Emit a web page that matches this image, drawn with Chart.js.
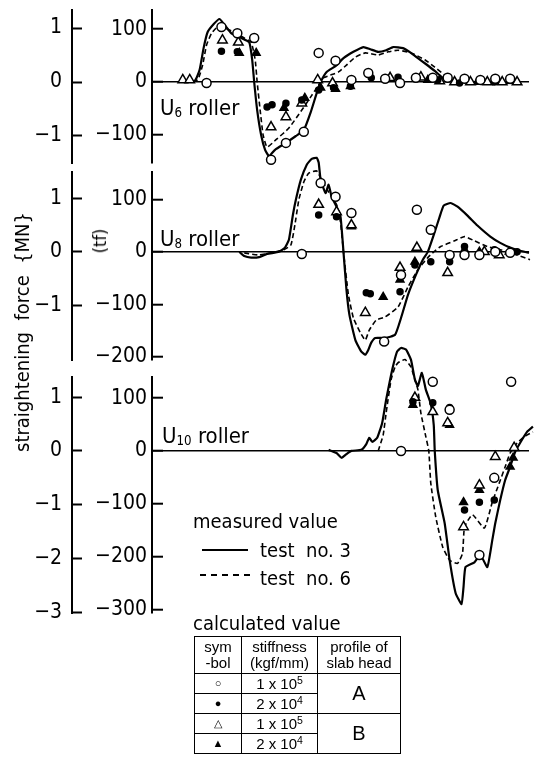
<!DOCTYPE html>
<html>
<head>
<meta charset="utf-8">
<script src="https://cdn.jsdelivr.net/npm/chart.js@4.4.1/dist/chart.umd.min.js"></script>
<style>
body { margin: 0; background: #fff; }
#wrap { position: relative; width: 536px; height: 784px; overflow: hidden; color: #000;
  font-family: "Liberation Sans Narrow", "DejaVu Sans Condensed", "Liberation Sans", sans-serif; }
canvas { position: absolute; left: 0; top: 0; }
.t { position: absolute; white-space: nowrap; line-height: 1; }
.t sub { font-size: 60%; vertical-align: -0.15em; }
table { position: absolute; left: 194px; top: 636px; border-collapse: collapse; font-size: 15px; line-height: 1.05;
  font-family: "Liberation Sans", sans-serif; }
td { border: 1.5px solid #000; text-align: center; padding: 0; height: 19px; }
td sup { font-size: 70%; vertical-align: 0.45em; }
td.s { font-size: 11px; }
</style>
</head>
<body>
<div id="wrap">
  <canvas id="c6" width="536" height="784"></canvas>
  <canvas id="c8" width="536" height="784"></canvas>
  <canvas id="c10" width="536" height="784"></canvas>

  <div class="t" style="left:22px;top:332px;font-size:20px;transform:translate(-50%,-50%) rotate(-90deg);">straightening&nbsp; force&nbsp; {MN}</div>
  <div class="t" style="left:100px;top:241px;font-size:18px;transform:translate(-50%,-50%) rotate(-90deg);">(tf)</div>

  <div class="t" style="left:160px;top:97px;font-size:22px;">U<sub>6</sub> roller</div>
  <div class="t" style="left:160px;top:228px;font-size:22px;">U<sub>8</sub> roller</div>
  <div class="t" style="left:162px;top:425px;font-size:22px;">U<sub>10</sub> roller</div>

  <div class="t" style="left:193px;top:511px;font-size:20px;">measured value</div>
  <div style="position:absolute;left:202px;top:549px;width:46px;border-top:2px solid #000;"></div>
  <div class="t" style="left:260px;top:540px;font-size:20px;">test&nbsp; no. 3</div>
  <div style="position:absolute;left:200px;top:574px;width:50px;border-top:2px dashed #000;"></div>
  <div class="t" style="left:260px;top:568px;font-size:20px;">test&nbsp; no. 6</div>
  <div class="t" style="left:193px;top:613px;font-size:20px;">calculated value</div>

  <table>
    <tr><td style="width:46px;height:36px;">sym<br>-bol</td><td style="width:75px;">stiffness<br>(kgf/mm)</td><td style="width:82px;">profile of<br>slab head</td></tr>
    <tr><td class="s">&#9675;</td><td>1 x 10<sup>5</sup></td><td rowspan="2" style="font-size:20px;">A</td></tr>
    <tr><td class="s">&#9679;</td><td>2 x 10<sup>4</sup></td></tr>
    <tr><td class="s">&#9651;</td><td>1 x 10<sup>5</sup></td><td rowspan="2" style="font-size:20px;">B</td></tr>
    <tr><td class="s">&#9650;</td><td>2 x 10<sup>4</sup></td></tr>
  </table>
</div>

<script>
// x: position along the line (no scale shown), y: straightening force in tf
const u6Test3 = [[28,0],[43,2],[48,23],[52,64],[56,94],[62,109],[68,119],[73,108],[80,92],[90,83],[98,75],[101,42],[103,0],[106,-53],[110,-100],[114,-128],[118,-140],[124,-128],[135,-115],[145,-102],[153,-91],[160,-57],[166,-21],[170,0],[176,19],[185,30],[193,45],[203,57],[213,66],[220,62],[228,57],[236,60],[243,66],[253,64],[261,55],[268,45],[276,34],[285,21],[293,8],[300,2],[318,0],[368,-2]];
const u6Test6 = [[33,0],[46,4],[51,32],[55,70],[60,92],[66,104],[73,102],[83,94],[93,83],[100,75],[104,42],[106,0],[109,-53],[112,-100],[116,-123],[125,-109],[138,-87],[151,-53],[160,-28],[166,-11],[173,8],[180,13],[188,19],[196,32],[205,47],[215,55],[228,51],[238,57],[248,60],[261,55],[275,42],[285,28],[295,13],[305,0],[368,0]];
const u6Circle = [[55,-2],[70,104],[86,92],[103,83],[120,-147],[135,-115],[153,-94],[168,55],[185,40],[201,4],[218,17],[235,6],[250,-2],[266,8],[283,8],[298,8],[315,6],[331,4],[346,6],[361,6]];
const u6Dot = [[70,58],[86,57],[116,-47],[121,-43],[135,-40],[151,-34],[168,-15],[183,-11],[200,-8],[221,8],[248,9],[288,4],[310,-2],[345,0]];
const u6Tri = [[31,4],[38,4],[71,79],[87,75],[120,-85],[135,-66],[151,-40],[167,4],[182,-2],[240,8],[271,9],[290,2],[305,0],[321,0],[338,0],[353,0],[368,0]];
const u6TriFill = [[88,55],[105,55],[133,-49],[154,-30],[170,-11],[185,-13],[200,-8],[278,4],[328,0]];

const u8Test3 = [[88,0],[93,-8],[100,-11],[108,-10],[116,-4],[128,0],[134,8],[138,23],[142,70],[145,99],[150,137],[156,166],[161,177],[166,179],[168,170],[170,137],[175,112],[178,128],[181,105],[186,86],[190,67],[193,0],[196,-72],[199,-120],[205,-168],[211,-190],[215,-196],[218,-187],[221,-173],[225,-164],[235,-164],[245,-158],[251,-126],[258,-82],[266,-44],[273,-15],[278,0],[285,38],[290,67],[294,88],[301,93],[308,86],[318,69],[328,50],[341,29],[351,17],[361,8],[371,2],[380,-2]];
const u8Test6 = [[93,-2],[108,-6],[133,4],[140,13],[144,51],[148,99],[153,133],[158,150],[166,154],[171,137],[178,114],[186,90],[190,57],[193,0],[198,-82],[203,-126],[210,-154],[215,-168],[219,-149],[226,-130],[235,-124],[248,-105],[258,-67],[268,-34],[278,-11],[284,0],[291,10],[305,21],[315,29],[325,21],[338,10],[351,4],[368,-6],[381,-15]];
const u8Circle = [[151,-4],[170,131],[185,105],[201,74],[267,80],[281,42],[251,-44],[215,-221],[234,-171],[300,-6],[315,-6],[330,-6],[346,0],[361,-2]];
const u8Dot = [[168,70],[186,67],[216,-78],[220,-80],[250,-76],[265,-25],[281,-19],[300,-19],[315,10],[330,-6],[345,4],[368,0]];
const u8Tri = [[168,90],[186,76],[201,51],[267,8],[298,-40],[250,-30],[215,-116],[335,0],[350,-6]];
const u8TriFill = [[201,48],[233,-86],[250,-53],[265,-19],[315,4],[330,0],[360,0]];

const u10Test3 = [[178,2],[186,-4],[191,-13],[196,-6],[201,0],[211,2],[216,13],[219,25],[222,17],[227,25],[232,53],[236,97],[240,135],[243,161],[247,188],[251,195],[256,192],[261,173],[265,135],[268,123],[272,148],[276,116],[281,89],[284,49],[285,0],[288,-74],[295,-137],[300,-207],[306,-269],[312,-290],[314,-258],[316,-220],[325,-211],[331,-197],[338,-220],[343,-169],[346,-137],[351,-93],[356,-55],[361,-30],[366,-2],[371,15],[378,36],[384,46]];
const u10Test6 = [[228,0],[233,30],[236,72],[241,135],[245,159],[248,167],[255,173],[261,159],[265,135],[268,116],[271,72],[276,27],[279,0],[281,-61],[286,-125],[293,-182],[300,-207],[308,-213],[313,-194],[315,-144],[323,-121],[335,-146],[343,-97],[350,-61],[356,-30],[361,-4],[368,15],[376,28],[384,36]];
const u10Circle = [[251,0],[216,157],[268,169],[283,131],[300,78],[362,131],[345,-51],[330,-197],[284,-336]];
const u10Dot = [[263,93],[283,91],[300,82],[315,-112],[330,-97],[345,-93]];
const u10Tri = [[265,101],[283,74],[298,53],[346,-11],[365,6],[330,-65],[314,-144]];
const u10TriFill = [[263,87],[300,49],[314,-97],[330,-74],[361,-30],[364,-13]];

const u6TfTicks = [100, 0, -100];
const u8TfTicks = [100, 0, -100, -200];
const u10TfTicks = [100, 0, -100, -200, -300];
const u6MnTicks = [1, 0, -1];
const u8MnTicks = [1, 0, -1];
const u10MnTicks = [1, 0, -1, -2, -3];

const TF_TO_MN = 0.00980665;
const FONT = '"Liberation Sans Narrow", "DejaVu Sans Condensed", "Liberation Sans", sans-serif';

function pts(arr) { return arr.map(p => ({ x: p[0], y: p[1] })); }
function minus(v) { return v < 0 ? '\u2212' + (-v) : String(v); }

function lineSet(arr, dashed) {
  return { type: 'line', data: pts(arr), borderColor: '#000', borderWidth: dashed ? 1.6 : 2.2,
    borderDash: dashed ? [5, 3] : [], pointRadius: 0, tension: 0.15, fill: false, clip: false, order: 2 };
}
function pointSet(arr, style, filled, r) {
  return { type: 'scatter', data: pts(arr), pointStyle: style, pointRadius: r,
    pointBorderColor: '#000', pointBackgroundColor: filled ? '#000' : '#fff', pointBorderWidth: 1.5,
    clip: false, order: 1 };
}

function panel(id, top, bottom, tfMin, tfMax, tfTicks, mnTicks, s) {
  new Chart(document.getElementById(id), {
    type: 'scatter',
    data: { datasets: [
      lineSet(s[0], false), lineSet(s[1], true),
      pointSet(s[2], 'circle', false, 4.5), pointSet(s[3], 'circle', true, 3),
      pointSet(s[4], 'triangle', false, 5.5), pointSet(s[5], 'triangle', true, 4.5)
    ] },
    options: {
      responsive: false, animation: false, events: [],
      layout: { padding: { left: 32, right: 4, top: top, bottom: 784 - bottom } },
      plugins: { legend: { display: false }, tooltip: { enabled: false } },
      scales: {
        x: { type: 'linear', min: 0, max: 380, display: false },
        y: {
          position: 'left', weight: 0, min: tfMin, max: tfMax,
          afterBuildTicks: sc => { sc.ticks = tfTicks.map(v => ({ value: v })); },
          afterFit: sc => { sc.width = 80; sc.paddingTop = 0; sc.paddingBottom = 0; },
          ticks: { padding: 16, color: '#000', font: { family: FONT, size: 21 }, callback: minus },
          grid: { color: c => (c.tick && c.tick.value === 0) ? '#000' : 'rgba(0,0,0,0)', lineWidth: 1.4,
            tickLength: -11, tickColor: '#000', tickWidth: 2 },
          border: { display: true, color: '#000', width: 2 }
        },
        mn: {
          position: 'left', weight: 1, min: tfMin * TF_TO_MN, max: tfMax * TF_TO_MN,
          afterBuildTicks: sc => { sc.ticks = mnTicks.map(v => ({ value: v })); },
          afterFit: sc => { sc.width = 40; sc.paddingTop = 0; sc.paddingBottom = 0; },
          ticks: { padding: 20, color: '#000', font: { family: FONT, size: 21 }, callback: minus },
          grid: { drawOnChartArea: false, tickLength: -10, tickColor: '#000', tickWidth: 2 },
          border: { display: true, color: '#000', width: 2 }
        }
      }
    }
  });
}

panel('c6', 10, 163, -153, 136, u6TfTicks, u6MnTicks, [u6Test3, u6Test6, u6Circle, u6Dot, u6Tri, u6TriFill]);
panel('c8', 172, 360, -206, 152, u8TfTicks, u8MnTicks, [u8Test3, u8Test6, u8Circle, u8Dot, u8Tri, u8TriFill]);
panel('c10', 377, 613, -307, 140, u10TfTicks, u10MnTicks, [u10Test3, u10Test6, u10Circle, u10Dot, u10Tri, u10TriFill]);
</script>
</body>
</html>
